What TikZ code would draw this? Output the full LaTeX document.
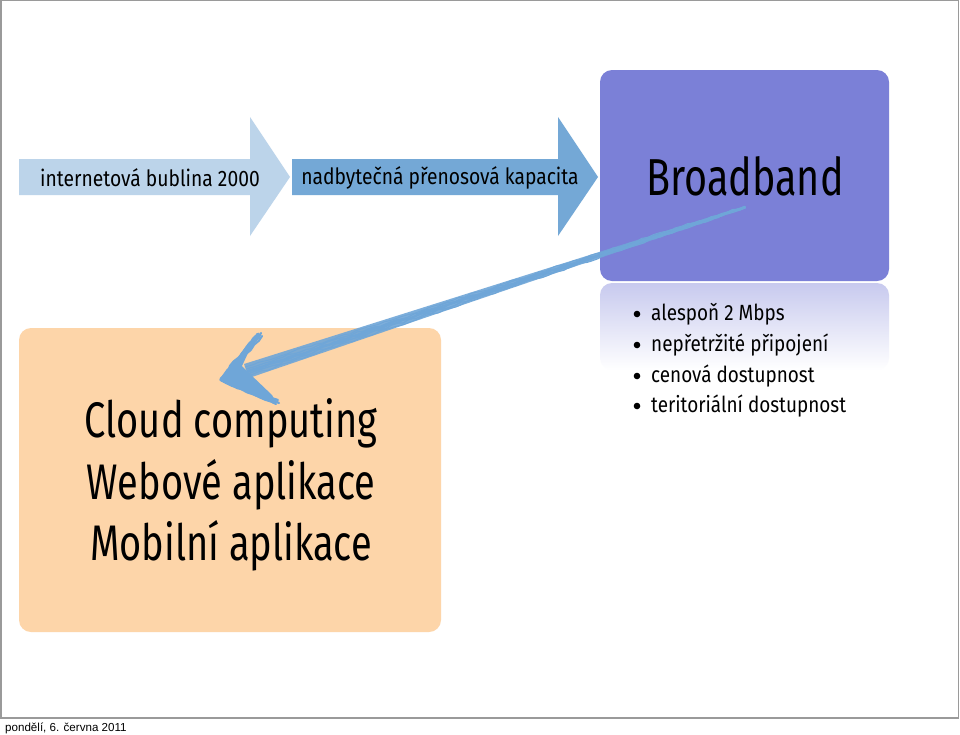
\documentclass[tikz,border=0pt]{standalone}
\usepackage{fontspec}
\setmainfont{Fira Sans}[FakeStretch=0.86]
\newfontfamily\bigfont{Fira Sans}[FakeStretch=0.76]
\setsansfont{Liberation Sans}
\usetikzlibrary{decorations.pathmorphing}
\definecolor{arrA}{HTML}{BCD4EA}
\definecolor{arrB}{HTML}{74A8D6}
\definecolor{bbox}{HTML}{7B80D7}
\definecolor{peach}{HTML}{FDD5A9}
\definecolor{sketchc}{HTML}{6FA6D8}
\definecolor{frameg}{HTML}{9A9A9A}
\newcommand{\fsz}[1]{\fontsize{#1}{#1}\selectfont}
\begin{document}
\begin{tikzpicture}[x=1pt,y=-1pt,
  arrowtext/.style={font=\fsz{22.4}, inner sep=0pt},
  boxstyle/.style={rounded corners=12pt, inner sep=0pt},
  bullettext/.style={font=\fsz{22}, anchor=base west, inner sep=0pt},
  bigtext/.style={font=\bigfont\fsz{50}, anchor=base, inner sep=0pt},
  sketchy/.style={draw=sketchc, decorate, decoration={random steps, segment length=6pt, amplitude=1pt}, line cap=round, line join=round}]
\pgfmathsetseed{7}
\useasboundingbox (0,0) rectangle (960,734);
\fill[white] (0,0) rectangle (960,734);
\draw[frameg, line width=1.3] (1,0.6) -- (1,718) -- (958.4,718) -- (958.4,0.6) -- cycle;

% process arrows
\fill[arrA] (19,159) -- (250,159) -- (250,117) -- (290,177) -- (250,236) -- (250,195) -- (19,195) -- cycle;
\node[arrowtext] (a1) at (150,178) {internetová bublina 2000};
\fill[arrB] (292,159) -- (558,159) -- (558,117) -- (598,177) -- (558,236) -- (558,195) -- (292,195) -- cycle;
\node[arrowtext] (a2) at (440,178) {nadbytečná přenosová kapacita};

% broadband box and its reflection
\node[boxstyle, fill=bbox, minimum width=289pt, minimum height=211pt] (bb) at (744.5,175.5) {};
\node[font=\bigfont\fsz{52}, anchor=base, inner sep=0pt] (bbt) at (745,195) {Broadband};
\shade[top color=bbox!42, bottom color=white, rounded corners=12pt] (600,283) rectangle (889,370);

% bullets
\foreach \y/\t [count=\i] in {320/{alespoň 2 Mbps}, 351/{nepřetržité připojení}, 382/{cenová dostupnost}, 412/{teritoriální dostupnost}}{
  \fill (637,\y-6) circle (3.3);
  \node[bullettext] (b\i) at (651,\y) {\t};
}

% cloud box
\node[boxstyle, fill=peach, minimum width=422pt, minimum height=304pt] (cc) at (230,480) {};
\node[bigtext] (c1) at (231,437) {Cloud computing};
\node[bigtext] (c2) at (231,499) {Webové aplikace};
\node[bigtext] (c3) at (231,560) {Mobilní aplikace};

% sketched arrow
\coordinate (s) at (745,207);
\coordinate (t) at (221,379);
\coordinate (w1) at (258,334);
\coordinate (w2) at (275,401);
\fill[sketchc, opacity=0.9] (745,206) -- (746,208) -- (249,378) -- (244,364) -- cycle;
\foreach \dx/\dy/\lw in {0/0/1.6, 1/3/1.3, -1/-2/1.2, 2/5/1.0, 0/1/2.0, -2/-4/0.9}{
  \draw[sketchy, line width=\lw] ([shift={(\dx*0.2,\dy*0.2)}]s) -- ([shift={(\dx+26,\dy-8)}]t);
}
\fill[sketchc] (t) -- (258,334) -- (254,340) -- (242,366) -- (250,374) -- (272,395) -- (275,401) -- cycle;
\foreach \dx/\dy in {0/0, 2/1, -1/2, 3/-1, 1/3, 4/2}{
  \draw[sketchy, line width=2.2] ([shift={(\dx,\dy)}]w1) -- ([shift={(\dx*0.5,\dy*0.5)}]t) -- ([shift={(\dx,\dy)}]w2);
}
\draw[sketchy, line width=3] (w1) -- (t) -- (w2);

% footer
\node[font=\sffamily\fsz{11.6}, anchor=base west, inner sep=0pt] (ft) at (5,731) {pondělí, 6. června 2011};
\end{tikzpicture}
\end{document}
